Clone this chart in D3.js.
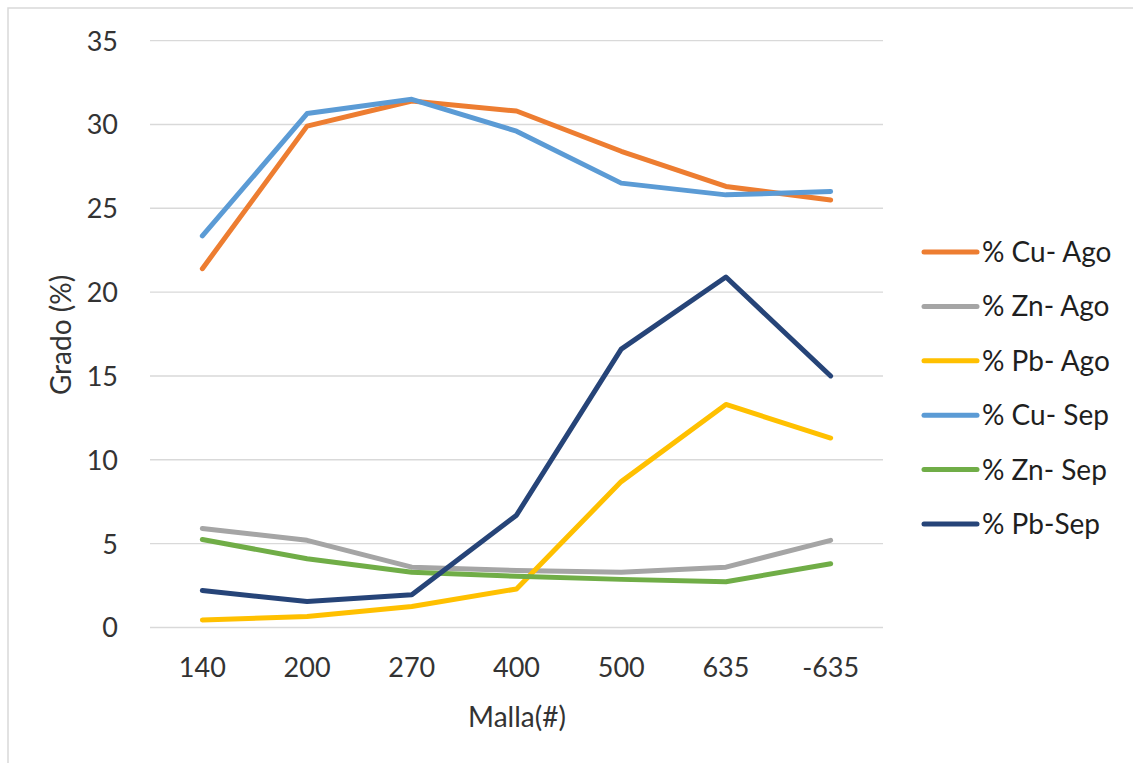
<!DOCTYPE html>
<html><head><meta charset="utf-8">
<script src="https://cdn.jsdelivr.net/npm/d3@7/dist/d3.min.js"></script>
<style>html,body{margin:0;padding:0;background:#fff;}svg{display:block;font-family:Lato,"Open Sans",sans-serif;}</style>
</head><body>
<script>
const categories = ["140","200","270","400","500","635","-635"];
const cuAgo = [21.4, 29.9, 31.4, 30.8, 28.4, 26.3, 25.5];
const znAgo = [5.9, 5.2, 3.6, 3.4, 3.3, 3.6, 5.2];
const pbAgo = [0.45, 0.65, 1.25, 2.3, 8.7, 13.3, 11.3];
const cuSep = [23.35, 30.65, 31.5, 29.6, 26.5, 25.8, 26.0];
const znSep = [5.25, 4.1, 3.3, 3.05, 2.87, 2.73, 3.8];
const pbSep = [2.2, 1.55, 1.95, 6.7, 16.6, 20.9, 15.0];
const seriesNames = ["% Cu- Ago","% Zn- Ago","% Pb- Ago","% Cu- Sep","% Zn- Sep","% Pb-Sep"];
const seriesColors = ["#ED7D31","#A5A5A5","#FFC000","#5B9BD5","#70AD47","#264478"];
const yTicks = [0,5,10,15,20,25,30,35];
const xTitle = "Malla(#)";
const yTitle = "Grado (%)";

const series = [cuAgo, znAgo, pbAgo, cuSep, znSep, pbSep].map((v,i)=>({name:seriesNames[i], color:seriesColors[i], values:v}));

const W=1133,H=763;
const svg=d3.select("body").append("svg").attr("width",W).attr("height",H);
svg.append("rect").attr("x",8).attr("y",8).attr("width",W+10).attr("height",H+10)
  .attr("fill","#fff").attr("stroke","#D9D9D9").attr("stroke-width",1.5);

const x=d3.scaleBand().domain(categories).range([150,883]);
const y=d3.scaleLinear().domain([0,35]).range([627.5,40.6]);

const g=svg.append("g");
g.selectAll("line.grid").data(yTicks).join("line").attr("class","grid")
  .attr("x1",150).attr("x2",883).attr("y1",d=>y(d)).attr("y2",d=>y(d))
  .attr("stroke","#D9D9D9").attr("stroke-width",1.4);

const yAxis=svg.append("g").attr("transform","translate(150,0)")
  .call(d3.axisLeft(y).tickValues(yTicks).tickSize(0).tickPadding(32));
yAxis.select(".domain").remove();
yAxis.selectAll("text").attr("font-size",27).attr("fill","#333333").attr("font-family","Lato").attr("dy","0.35em");

const xAxis=svg.append("g").attr("transform","translate(0,627.5)")
  .call(d3.axisBottom(x).tickSize(0).tickPadding(30));
xAxis.select(".domain").remove();
xAxis.selectAll("text").attr("font-size",27).attr("fill","#333333").attr("font-family","Lato");

svg.append("text").attr("x",517).attr("y",727).attr("text-anchor","middle")
  .attr("font-size",28).attr("fill","#333333").text(xTitle);
svg.append("text").attr("transform","translate(71,335) rotate(-90)").attr("text-anchor","middle")
  .attr("font-size",28).attr("fill","#333333").text(yTitle);

const line=d3.line().x((d,i)=>x(categories[i])+x.bandwidth()/2).y(d=>y(d));
svg.append("g").selectAll("path").data(series).join("path")
  .attr("d",d=>line(d.values)).attr("fill","none").attr("stroke",d=>d.color)
  .attr("stroke-width",5).attr("stroke-linejoin","round").attr("stroke-linecap","round");

const leg=svg.append("g").selectAll("g").data(series).join("g")
  .attr("transform",(d,i)=>`translate(0,${252+i*54.4})`);
leg.append("line").attr("x1",924).attr("x2",977).attr("y1",0).attr("y2",0)
  .attr("stroke",d=>d.color).attr("stroke-width",5).attr("stroke-linecap","round");
leg.append("text").attr("x",982).attr("y",0).attr("dy","0.36em")
  .attr("font-size",28).attr("fill","#1f1f1f").text(d=>d.name);
</script>
</body></html>
